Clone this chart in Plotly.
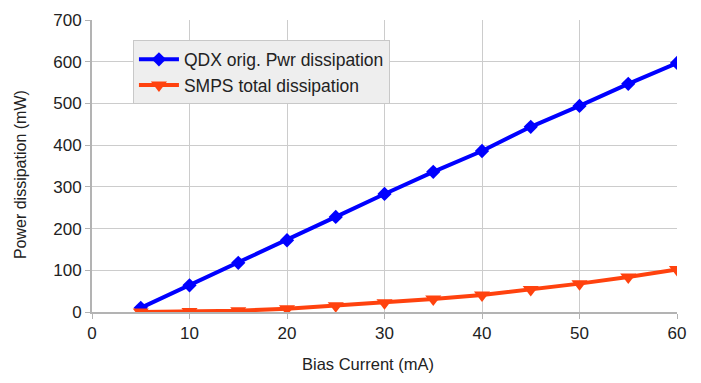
import plotly.graph_objects as go

bias_current = [5, 10, 15, 20, 25, 30, 35, 40, 45, 50, 55, 60]
qdx_dissipation = [10, 64, 118, 172, 228, 283, 336, 386, 444, 494, 547, 597]
smps_dissipation = [0, 1, 3, 8, 15, 22, 31, 41, 54, 68, 84, 102]

x_ticks = [0, 10, 20, 30, 40, 50, 60]
y_ticks = [0, 100, 200, 300, 400, 500, 600, 700]

x_title = "Bias Current (mA)"
y_title = "Power dissipation (mW)"

font_family = "Liberation Sans, Arial, sans-serif"

fig = go.Figure()
fig.add_trace(go.Scatter(
    x=bias_current, y=qdx_dissipation, name="QDX orig. Pwr dissipation",
    mode="lines+markers",
    line=dict(color="#0000ff", width=4),
    marker=dict(symbol="diamond", size=11, color="#0000ff"),
))
fig.add_trace(go.Scatter(
    x=bias_current, y=smps_dissipation, name="SMPS total dissipation",
    mode="lines+markers",
    line=dict(color="#ff420e", width=4),
    marker=dict(symbol="triangle-down", size=14, color="#ff420e"),
))

axis_common = dict(
    showgrid=True, gridcolor="#cccccc", gridwidth=1,
    showline=True, linecolor="#b3b3b3", linewidth=2,
    ticks="outside", ticklen=5, tickcolor="#b3b3b3", tickwidth=1,
    tickfont=dict(family=font_family, size=17, color="#222222"),
    zeroline=False,
)

fig.update_layout(
    width=701, height=383,
    paper_bgcolor="white", plot_bgcolor="white",
    margin=dict(l=84, r=32, t=12, b=79, autoexpand=False),
    font=dict(family=font_family),
    xaxis=dict(range=[0, 60], tickvals=x_ticks, **axis_common),
    yaxis=dict(range=[0, 700], tickvals=y_ticks, **axis_common),
    legend=dict(
        x=0.07, y=0.93, xanchor="left", yanchor="top",
        bgcolor="#eeeeee", bordercolor="#c8c8c8", borderwidth=1,
        font=dict(family=font_family, size=17.5, color="#222222"),
        itemwidth=40, tracegroupgap=2,
    ),
    annotations=[
        dict(text=x_title, xref="paper", yref="paper", x=0.472, y=-0.178,
             xanchor="center", yanchor="middle", showarrow=False,
             font=dict(family=font_family, size=16.5, color="#222222")),
        dict(text=y_title, xref="paper", yref="paper", x=-0.123, y=0.469,
             xanchor="center", yanchor="middle", showarrow=False, textangle=-90,
             font=dict(family=font_family, size=16, color="#222222")),
    ],
)

fig.write_html("out.html")
